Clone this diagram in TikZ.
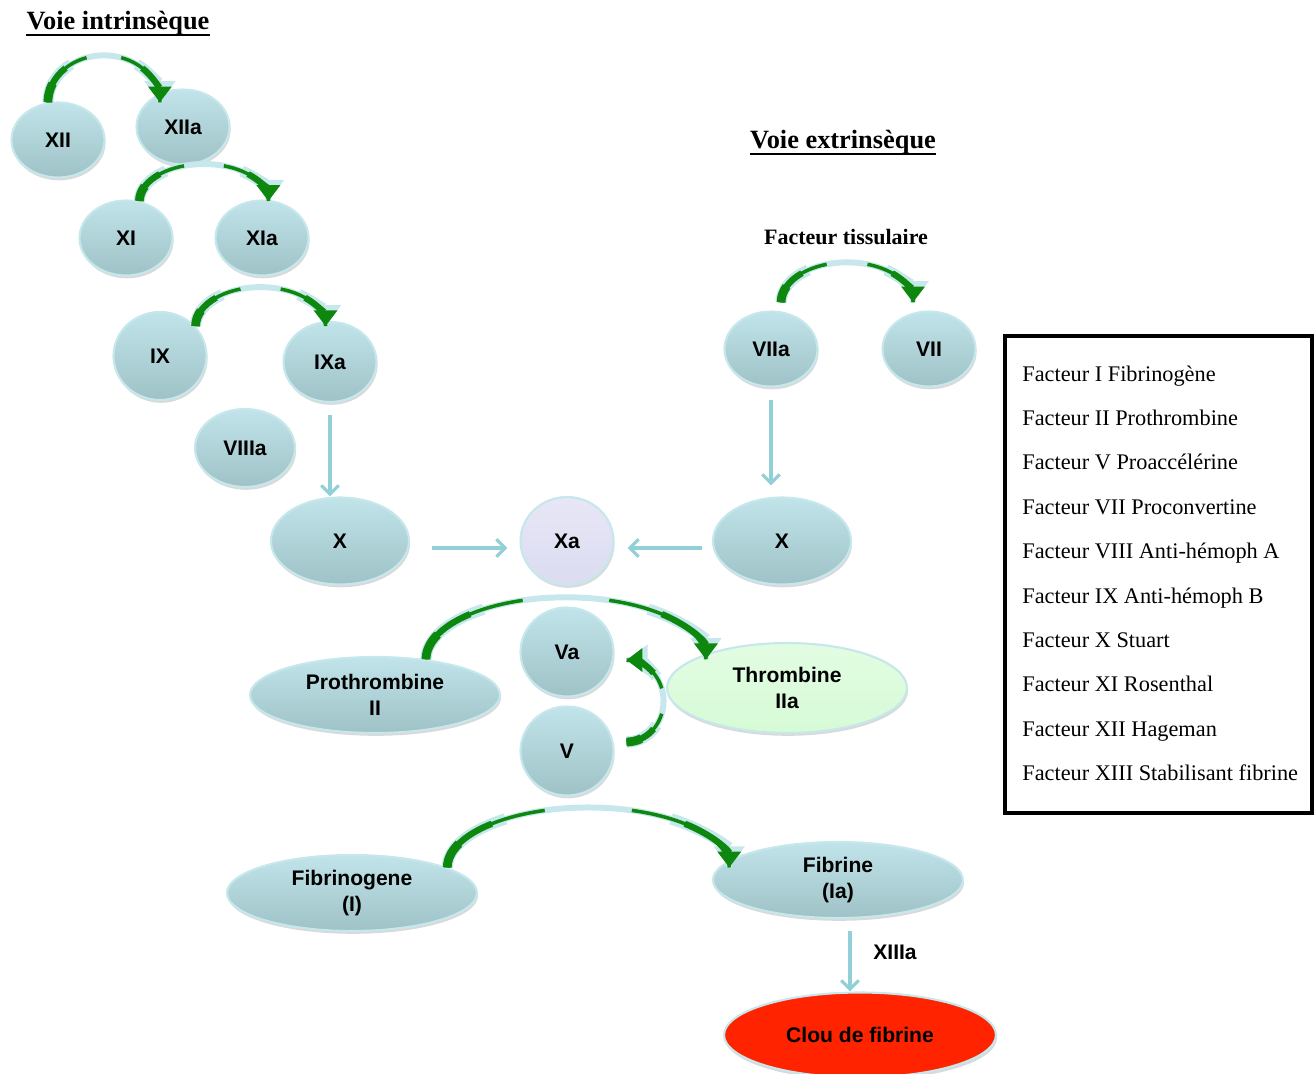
\documentclass[tikz,border=0pt]{standalone}
\usepackage{fontspec}
\setmainfont{Liberation Serif}
\setsansfont{Liberation Sans}
\usetikzlibrary{shapes.geometric,arrows.meta,shadows}

\definecolor{cielclair}{HTML}{C0E4E9}
\definecolor{cielfonce}{HTML}{9FC2C7}
\definecolor{bord}{HTML}{C6E7EB}
\definecolor{fleche}{HTML}{92D0D8}
\definecolor{vertfonce}{HTML}{0D870D}
\definecolor{lavande}{HTML}{DCDCF2}
\definecolor{vertpale}{HTML}{D6FBD6}
\definecolor{rouge}{HTML}{FF2300}

\tikzset{
	facteur/.style={ellipse, draw=bord, line width=1.2pt, top color=cielclair, bottom color=cielfonce,
		drop shadow={opacity=0.3,shadow xshift=0.6pt,shadow yshift=-1.6pt},
		inner sep=0pt, minimum width=1.86cm, minimum height=1.5cm, align=center,
		font=\fontsize{12}{14.7}\selectfont\sffamily\bfseries},
	flux/.style={draw=fleche, line width=1.8pt, -{Straight Barb[length=5pt,width=10pt]}},
	halo/.style={draw=bord, line width=3.4pt},
	vert/.style={draw=vertfonce, line width=2pt},
	titre/.style={anchor=base, inner sep=0pt, font=\fontsize{15}{18}\selectfont\bfseries},
	soulign/.style={line width=1.1pt},
	legende/.style={anchor=base west, inner sep=0pt, font=\fontsize{12.7}{14}\selectfont},
	etiquette/.style={inner sep=0pt, font=\fontsize{12}{14.7}\selectfont\sffamily\bfseries},
}

% #1 start, #2 x radius, #3 y radius, #4 start angle, #5 end angle
\newcommand{\activation}[5]{%
	\draw[halo] (#1) arc[start angle=#4, delta angle={#5-(#4)}, x radius=#2, y radius=#3] coordinate (fin);
	\draw[halo, line width=6.4pt] (#1) arc[start angle=#4, delta angle={(#5-(#4))*0.3}, x radius=#2, y radius=#3];
	\draw[halo, line width=6.4pt, {Triangle[length=12pt,width=17pt]}-] (fin) arc[start angle=#5, delta angle={(#4-(#5))*0.3}, x radius=#2, y radius=#3];
	\draw[vert] (#1) arc[start angle=#4, delta angle={(#5-(#4))*0.4}, x radius=#2, y radius=#3];
	\draw[vert, line width=3.6pt] (#1) arc[start angle=#4, delta angle={(#5-(#4))*0.26}, x radius=#2, y radius=#3];
	\draw[vert, line width=5pt] (#1) arc[start angle=#4, delta angle={(#5-(#4))*0.13}, x radius=#2, y radius=#3];
	\draw[vert] (fin) arc[start angle=#5, delta angle={(#4-(#5))*0.4}, x radius=#2, y radius=#3];
	\draw[vert, line width=3.6pt, {Triangle[length=9pt,width=13pt]}-] (fin) arc[start angle=#5, delta angle={(#4-(#5))*0.26}, x radius=#2, y radius=#3];
}

\begin{document}
\begin{tikzpicture}[x=0.02cm,y=-0.02cm]
	\useasboundingbox (0,0) rectangle (1315,1074);

	% titres
	\node[titre] (intrinseque) at (118,30) {Voie intrinsèque};
	\node[titre] (extrinseque) at (843,149) {Voie extrinsèque};
	\draw[soulign] ([yshift=-2.6pt]intrinseque.base west) -- ([yshift=-2.6pt]intrinseque.base east);
	\draw[soulign] ([yshift=-2.6pt]extrinseque.base west) -- ([yshift=-2.6pt]extrinseque.base east);
	\node[titre, font=\fontsize{12.5}{15}\selectfont\bfseries] (tissulaire) at (846,245) {Facteur tissulaire};

	% voie intrinseque
	\node[facteur] (XII) at (58,140) {XII};
	\node[facteur] (XIIa) at (183,127) {XIIa};
	\node[facteur] (XI) at (126,238) {XI};
	\node[facteur] (XIa) at (262,238) {XIa};
	\node[facteur, minimum height=1.76cm] (IX) at (160,356) {IX};
	\node[facteur, minimum height=1.6cm] (IXa) at (330,362) {IXa};
	\node[facteur, minimum width=2cm, minimum height=1.56cm] (VIIIa) at (245,448) {VIIIa};
	\node[facteur, minimum width=2.76cm, minimum height=1.74cm] (Xl) at (340,541) {X};

	% voie extrinseque
	\node[facteur] (VIIa) at (771,349) {VIIa};
	\node[facteur] (VII) at (929,349) {VII};
	\node[facteur, minimum width=2.76cm, minimum height=1.74cm] (Xr) at (782,541) {X};

	% voie commune
	\node[facteur, top color=lavande!70, bottom color=lavande, minimum height=1.76cm] (Xa) at (567,541) {Xa};
	\node[facteur, minimum width=5cm, minimum height=1.52cm] (Prothrombine) at (375,695) {Prothrombine\\II};
	\node[facteur, minimum height=1.78cm] (Va) at (567,652) {Va};
	\node[facteur, minimum height=1.78cm] (V) at (567,751) {V};
	\node[facteur, top color=vertpale!70, bottom color=vertpale, minimum width=4.8cm, minimum height=1.8cm] (Thrombine) at (787,688) {Thrombine\\IIa};
	\node[facteur, minimum width=5cm, minimum height=1.52cm] (Fibrinogene) at (352,893) {Fibrinogene\\(I)};
	\node[facteur, minimum width=5cm, minimum height=1.52cm] (Fibrine) at (838,880) {Fibrine\\(Ia)};
	\node[facteur, top color=rouge, bottom color=rouge, minimum width=5.44cm, minimum height=1.7cm] (Clou) at (860,1035) {Clou de fibrine};
	\node[etiquette] (XIIIa) at (895,952) {XIIIa};

	% activations
	\activation{XII.105}{1.12cm}{0.94cm}{180}{0}
	\activation{XI.70}{1.29cm}{0.74cm}{180}{0}
	\activation{IX.40}{1.3cm}{0.78cm}{180}{0}
	\activation{[shift={(0,-9)}]VIIa.75}{1.32cm}{0.8cm}{180}{0}
	\activation{Prothrombine.35}{2.8cm}{1.24cm}{180}{0}
	\activation{[shift={(12,-9)}]V.east}{0.74cm}{0.82cm}{-90}{90}
	\activation{Fibrinogene.15}{2.82cm}{1.2cm}{180}{0}

	% fleches
	\draw[flux, shorten <=0.24cm] (IXa.south) -- (IXa.south |- Xl.north);
	\draw[flux, shorten <=0.24cm, shorten >=0.22cm] (VIIa.south) -- (VIIa.south |- Xr.north);
	\draw[flux, shorten <=0.44cm, shorten >=0.24cm] ([yshift=-0.14cm]Xl.east) -- ([yshift=-0.14cm]Xa.west);
	\draw[flux, shorten <=0.2cm, shorten >=0.26cm] ([yshift=-0.14cm]Xr.west) -- ([yshift=-0.14cm]Xa.east);
	\draw[flux, shorten <=0.24cm] ([xshift=0.24cm]Fibrine.south) -- ([xshift=0.24cm]Fibrine.south |- Clou.north);

	% legende
	\draw[line width=2.3pt] (1005,336) rectangle (1312,813);
	\foreach \ligne [count=\i from 0] in {Facteur I Fibrinogène, Facteur II Prothrombine,
		Facteur V Proaccélérine, Facteur VII Proconvertine, Facteur VIII Anti-hémoph A,
		Facteur IX Anti-hémoph B, Facteur X Stuart, Facteur XI Rosenthal,
		Facteur XII Hageman, Facteur XIII Stabilisant fibrine}
		\node[legende] (leg\i) at (1022,{381+44.4*\i}) {\ligne};
\end{tikzpicture}
\end{document}
